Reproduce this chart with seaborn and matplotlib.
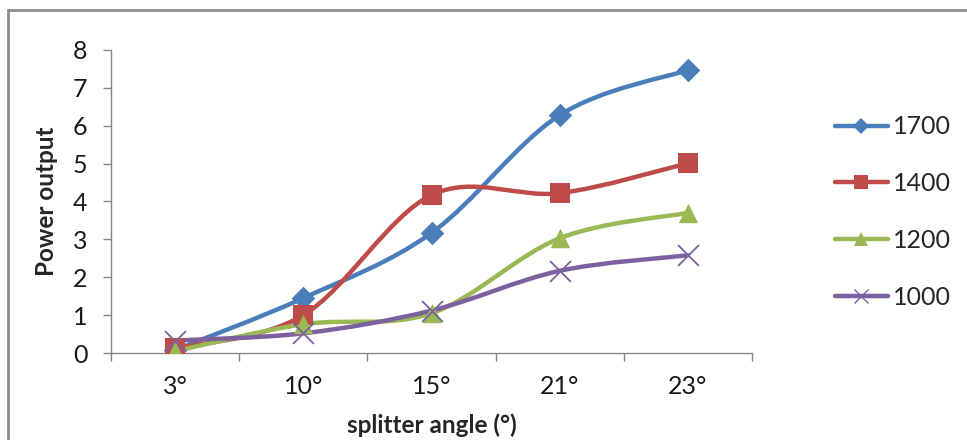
import numpy as np
import matplotlib
matplotlib.use("Agg")
import matplotlib.pyplot as plt
from matplotlib.path import Path
from matplotlib.patches import PathPatch, Rectangle
from matplotlib.lines import Line2D
import seaborn as sns

# data
angles = ["3°", "10°", "15°", "21°", "23°"]
p1700 = [0.08, 1.45, 3.17, 6.28, 7.47]
p1400 = [0.12, 1.0, 4.17, 4.22, 5.01]
p1200 = [0.05, 0.76, 1.05, 3.03, 3.7]
p1000 = [0.33, 0.52, 1.12, 2.17, 2.58]
series_names = ["1700", "1400", "1200", "1000"]

colors = ["#4A7EBB", "#BE4B48", "#98B954", "#7D60A0"]
markers = ["D", "s", "^", "x"]
msizes = [12, 15, 14, 15]

sns.set_style("white")
plt.rcParams['font.family'] = ['Lato', 'DejaVu Sans']

fig = plt.figure(figsize=(9.67, 4.4), dpi=100)
ax = fig.add_axes([0.1148, 0.1977, 0.6629, 0.6887])

# outer chart border like excel
fig.patches.append(Rectangle((8 / 967, -0.1), 1.2, (440 - 10) / 440 + 0.1,
                             transform=fig.transFigure, fill=False,
                             edgecolor="#8c8c8c", linewidth=2))


def smooth_path(xs, ys):
    # excel-like smoothed line: cubic bezier segments through the points
    pts = np.column_stack([xs, ys]).astype(float)
    n = len(pts)
    verts = [pts[0]]
    codes = [Path.MOVETO]
    for i in range(n - 1):
        p0 = pts[i - 1] if i > 0 else pts[i]
        p1 = pts[i]
        p2 = pts[i + 1]
        p3 = pts[i + 2] if i + 2 < n else pts[i + 1]
        c1 = p1 + (p2 - p0) / 6
        c2 = p2 - (p3 - p1) / 6
        verts += [c1, c2, p2]
        codes += [Path.CURVE4] * 3
    return Path(verts, codes)


xpos = np.arange(len(angles))
all_series = [p1700, p1400, p1200, p1000]
for vals, col in zip(all_series, colors):
    ax.add_patch(PathPatch(smooth_path(xpos, vals), fill=False,
                           edgecolor=col, linewidth=3.2, capstyle="round",
                           zorder=2))
for vals, col, mk, ms in zip(all_series, colors, markers, msizes):
    if mk == "x":
        sns.scatterplot(x=xpos, y=vals, marker=mk, s=ms ** 2, color=col,
                        linewidth=1.3, ax=ax, zorder=3)
    else:
        sns.scatterplot(x=xpos, y=vals, marker=mk, s=ms ** 2, color=col,
                        edgecolor=col, linewidth=0, ax=ax, zorder=3)

ax.set_xlim(-0.5, len(angles) - 0.5)
ax.set_ylim(0, 8)
ax.set_yticks(range(0, 9))

# ticks at category boundaries, labels at centres
ax.set_xticks(np.arange(-0.5, len(angles), 1))
ax.set_xticklabels([])
ax.set_xticks(xpos, minor=True)
ax.set_xticklabels(angles, minor=True)
ax.tick_params(axis="x", which="major", direction="out", length=6,
               color="#868686", width=1, bottom=True)
ax.tick_params(axis="x", which="minor", length=0, pad=16, labelsize=18,
               labelcolor="#1a1a1a")
ax.tick_params(axis="y", direction="out", length=6, color="#868686",
               width=1, left=True, pad=11, labelsize=18, labelcolor="#1a1a1a")

for side in ["top", "right"]:
    ax.spines[side].set_visible(False)
for side in ["left", "bottom"]:
    ax.spines[side].set_color("#868686")
    ax.spines[side].set_linewidth(1)

ax.set_xlabel("splitter angle (°)", fontsize=17.5, fontweight="bold")
ax.set_ylabel("Power output", fontsize=17.5, fontweight="bold")
ax.xaxis.set_label_coords(0.5, -0.2)
ax.yaxis.set_label_coords(-0.083, 0.5)

handles = [Line2D([0], [0], color=c, linewidth=3.2, marker=m,
                  markersize=ms * 0.7, markeredgewidth=1 if m == "x" else 0)
           for c, m, ms in zip(colors, markers, msizes)]
fig.legend(handles, series_names, loc="center left",
           bbox_to_anchor=(835 / 967, 0.518), frameon=False, fontsize=18,
           handlelength=2.1, handletextpad=0.2, labelspacing=1.35,
           borderpad=0, borderaxespad=0)

fig.savefig("out.png", dpi=100)
